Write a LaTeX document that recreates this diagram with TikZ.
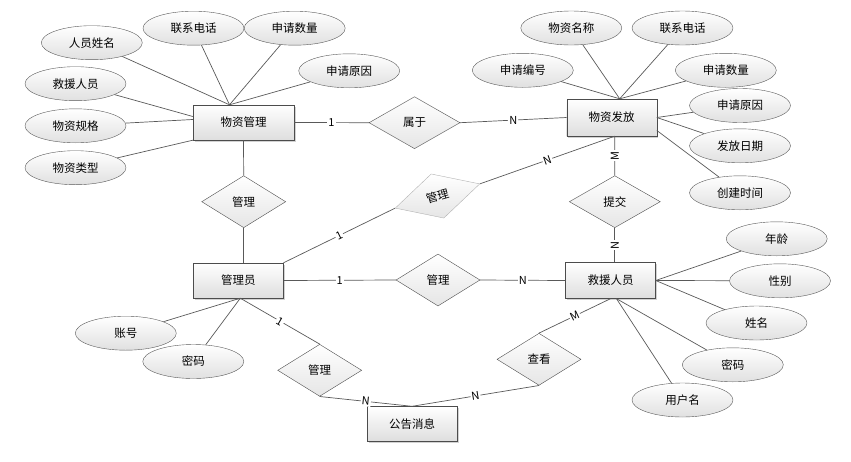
\documentclass[tikz,border=0pt]{standalone}
\usepackage{fontspec}
\setmainfont{Noto Sans CJK SC}
\usetikzlibrary{shapes.geometric,shadows}

\tikzset{
  entity/.style={draw=black!70,rectangle,top color=white,bottom color=black!13,
    minimum width=90pt,minimum height=35pt,inner sep=0pt,
    drop shadow={shadow xshift=1.5pt,shadow yshift=-1.5pt,fill=black!35}},
  attr/.style={draw=black!65,ellipse,top color=white,bottom color=black!12,
    minimum width=101pt,minimum height=34pt,inner sep=0pt},
  rel/.style={draw=black!70,diamond,top color=white,bottom color=black!10,
    minimum width=84pt,minimum height=52pt,inner sep=0pt},
  lab/.style={fill=white,inner sep=1pt,font=\fontsize{11}{12}\selectfont},
  conn/.style={draw=black!65,line width=0.7pt}
}

\begin{document}
\begin{tikzpicture}[x=1pt,y=-1pt,font=\fontsize{11.5}{13}\selectfont]
\useasboundingbox (0,0) rectangle (851,461);

% entities
\node[entity,minimum width=101pt] (wzgl) at (243.5,122.5) {物资管理};
\node[entity,minimum height=37pt] (wzff) at (611.7,117.5) {物资发放};
\node[entity] (gly) at (238.3,280.5) {管理员};
\node[entity,minimum height=36pt] (jyry) at (610.5,280.5) {救援人员};
\node[entity] (ggxx) at (412,424) {公告消息};

% relations
\node[rel,minimum width=91pt] (shuyu) at (414.5,122.7) {属于};
\node[rel] (guanli1) at (243.7,201.7) {管理};
\node[rel,draw=black!30,minimum width=88pt,minimum height=46pt,rotate=16] (guanli2) at (437.5,196) {管理};
\node[rel,minimum width=91pt] (tijiao) at (614.8,201.7) {提交};
\node[rel] (guanli3) at (438,280) {管理};
\node[rel] (guanli4) at (319.7,370.3) {管理};
\node[rel] (chakan) at (539,359.3) {查看};

% attributes of 物资管理
\node[attr] (ryxm) at (91.8,42.7) {人员姓名};
\node[attr] (lxdh1) at (193.5,28.2) {联系电话};
\node[attr] (sqsl1) at (294.7,28.2) {申请数量};
\node[attr] (sqyy1) at (349.2,70.8) {申请原因};
\node[attr] (jyry1) at (75.5,83.7) {救援人员};
\node[attr] (wzgg) at (75.5,125.8) {物资规格};
\node[attr] (wzlx) at (75.5,167.7) {物资类型};
% attributes of 物资发放
\node[attr] (wzmc) at (571.3,28) {物资名称};
\node[attr] (lxdh2) at (682.5,28) {联系电话};
\node[attr] (sqbh) at (522.8,70.3) {申请编号};
\node[attr] (sqsl2) at (725.8,70.3) {申请数量};
\node[attr] (sqyy2) at (740,105.5) {申请原因};
\node[attr] (ffrq) at (740,145.8) {发放日期};
\node[attr] (cjsj) at (740,192.8) {创建时间};
% attributes of 救援人员
\node[attr] (nl) at (776.7,238.8) {年龄};
\node[attr] (xb) at (780,280.8) {性别};
\node[attr] (xm) at (756.5,323) {姓名};
\node[attr] (mm2) at (732.8,364.8) {密码};
\node[attr] (yhm) at (682.5,400) {用户名};
% attributes of 管理员
\node[attr] (zh) at (125.8,333.2) {账号};
\node[attr] (mm1) at (193.3,361.5) {密码};

% attribute lines
\foreach \a in {ryxm,lxdh1,sqsl1,sqyy1}
  \draw[conn] (\a) -- ([xshift=-14pt]wzgl.north);
\draw[conn] (jyry1) -- ([yshift=6pt]wzgl.west);
\draw[conn] (wzgg) -- ([yshift=3pt]wzgl.west);
\draw[conn] (wzlx) -- (wzgl.south west);
\foreach \a in {sqbh,wzmc,lxdh2,sqsl2}
  \draw[conn] (\a) -- ([xshift=8pt]wzff.north);
\draw[conn] (sqyy2) -- (wzff.east);
\draw[conn] (ffrq) -- (wzff.east);
\draw[conn] (cjsj) -- ([yshift=-13pt]wzff.east);
\foreach \a in {nl,xb,xm}
  \draw[conn] (\a) -- (jyry.east);
\foreach \a in {mm2,yhm}
  \draw[conn] (\a) -- ([xshift=6pt]jyry.south);
\foreach \a in {zh,mm1}
  \draw[conn] (\a) -- ([xshift=2pt]gly.south);

% relation lines
\draw[conn] (wzgl.east) -- node[lab]{1} (shuyu.west);
\draw[conn] (shuyu.east) -- node[lab]{N} (wzff.west);
\draw[conn] (wzgl.south) -- (guanli1.north);
\draw[conn] (guanli1.south) -- (guanli1.south |- gly.north);
\draw[conn] (gly.north east) -- node[lab,sloped]{1} (guanli2.west);
\draw[conn] (guanli2.east) -- node[lab,sloped]{N} ([xshift=3pt]wzff.south);
\draw[conn] ([xshift=3pt]wzff.south) -- node[lab,rotate=90]{M} (tijiao.north);
\draw[conn] (tijiao.south) -- node[lab,rotate=90]{N} (tijiao.south |- jyry.north);
\draw[conn] (gly.east) -- node[lab]{1} (guanli3.west);
\draw[conn] (guanli3.east) -- node[lab]{N} (jyry.west);
\draw[conn] ([xshift=2pt]gly.south) -- node[lab,sloped]{1} (guanli4.north);
\draw[conn] (guanli4.south) -- node[lab,sloped]{N} (ggxx.north);
\draw[conn] (chakan.south) -- node[lab,sloped]{N} (ggxx.north);
\draw[conn] (chakan.north) -- node[lab,sloped]{M} (jyry.south);
\end{tikzpicture}
\end{document}
